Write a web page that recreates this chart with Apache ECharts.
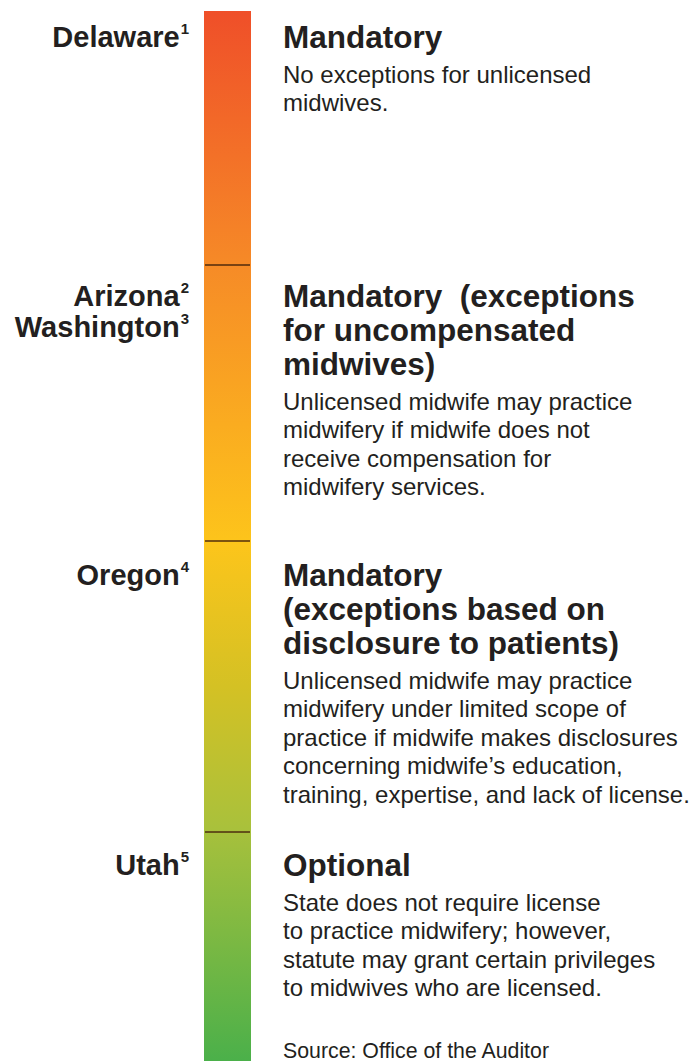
<!DOCTYPE html>
<html>
<head>
<meta charset="utf-8">
<script src="https://cdn.jsdelivr.net/npm/echarts@6/dist/echarts.min.js"></script>
<style>
  html, body { margin: 0; padding: 0; background: #fff; }
  #chart { width: 690px; height: 1061px; }
</style>
</head>
<body>
<div id="chart"></div>
<script>
// tiers from strictest (top) to optional (bottom)
const tierHeights = [254, 276, 291, 229]
const stateNames = [['Delaware'], ['Arizona', 'Washington'], ['Oregon'], ['Utah']]
const stateNotes = [['1'], ['2', '3'], ['4'], ['5']]
const headings = [
  ['Mandatory'],
  ['Mandatory  (exceptions', 'for uncompensated', 'midwives)'],
  ['Mandatory', '(exceptions based on', 'disclosure to patients)'],
  ['Optional'],
]
const descriptions = [
  ['No exceptions for unlicensed', 'midwives.'],
  ['Unlicensed midwife may practice', 'midwifery if midwife does not', 'receive compensation for', 'midwifery services.'],
  ['Unlicensed midwife may practice', 'midwifery under limited scope of', 'practice if midwife makes disclosures', 'concerning midwife\u2019s education,', 'training, expertise, and lack of license.'],
  ['State does not require license', 'to practice midwifery; however,', 'statute may grant certain privileges', 'to midwives who are licensed.'],
]
const sourceNote = 'Source: Office of the Auditor'

// look
const gradients = [
  ['#ef4f29', '#f68a27'],
  ['#f68b27', '#fdc41b'],
  ['#fdc51b', '#d4c124', '#a8c13c'],
  ['#a6c03c', '#4bb04a'],
]
const firstLineOffset = [26, 31, 34, 33]
const FONT = 'Arial, Liberation Sans, Helvetica, sans-serif'
const INK = '#231f20'

let acc = 0
const segments = tierHeights.map((h, i) => {
  const seg = [acc, acc + h, i]
  acc += h
  return seg
})

const chart = echarts.init(document.getElementById('chart'), null, { renderer: 'svg' })

const renderItem = (params, api) => {
  const i = api.value(2)
  const p0 = api.coord([0, api.value(0)])
  const p1 = api.coord([0, api.value(1)])
  const w = api.size([1, 0])[0]
  const x0 = p0[0] - w / 2
  const stops = gradients[i].map((c, k, arr) => ({ offset: k / (arr.length - 1), color: c }))
  const children = [{
    type: 'rect',
    shape: { x: x0, y: p0[1], width: w, height: p1[1] - p0[1] },
    style: { fill: new echarts.graphic.LinearGradient(0, 0, 0, 1, stops) },
  }]
  if (i > 0) {
    children.push({
      type: 'line',
      shape: { x1: x0 + 1, y1: p0[1], x2: x0 + w - 1, y2: p0[1] },
      style: { stroke: 'rgba(70,35,10,0.7)', lineWidth: 2 },
    })
  }
  const yc = p0[1] + firstLineOffset[i]
  // state names with footnote markers
  stateNames[i].forEach((name, k) => {
    children.push({
      type: 'text',
      x: 189, y: yc + k * 31,
      style: {
        text: `{n|${name}}{s|${stateNotes[i][k]}}`,
        align: 'right', verticalAlign: 'middle',
        rich: {
          n: { fontFamily: FONT, fontWeight: 'bold', fontSize: 29, fill: INK, lineHeight: 32 },
          s: { fontFamily: FONT, fontWeight: 'bold', fontSize: 15, fill: INK, lineHeight: 20, verticalAlign: 'top', padding: [0, 0, 0, 1] },
        },
      },
    })
  })
  children.push({
    type: 'text',
    x: 283, y: yc - 17,
    style: {
      text: headings[i].join('\n'),
      fontFamily: FONT, fontWeight: 'bold', fontSize: 31.5, lineHeight: 34,
      fill: INK, align: 'left', verticalAlign: 'top',
    },
  })
  const by = yc + (headings[i].length - 1) * 34 + 37
  children.push({
    type: 'text',
    x: 283, y: by - 14.25,
    style: {
      text: descriptions[i].join('\n'),
      fontFamily: FONT, fontSize: 24, lineHeight: 28.5,
      fill: INK, align: 'left', verticalAlign: 'top',
    },
  })
  return { type: 'group', children }
}

chart.setOption({
  backgroundColor: '#fff',
  animation: false,
  grid: { left: 204, width: 47, top: 11, height: 1050 },
  xAxis: { type: 'category', data: ['tier'], show: false },
  yAxis: { type: 'value', inverse: true, min: 0, max: 1050, show: false },
  graphic: [{
    type: 'text', left: 283, top: 1040,
    style: { text: sourceNote, fontFamily: FONT, fontSize: 21.3, fill: INK },
  }],
  series: [{
    type: 'custom',
    renderItem,
    clip: false,
    encode: { y: [0, 1] },
    data: segments,
  }],
})

window.addEventListener('resize', () => chart.resize())
</script>
</body>
</html>
